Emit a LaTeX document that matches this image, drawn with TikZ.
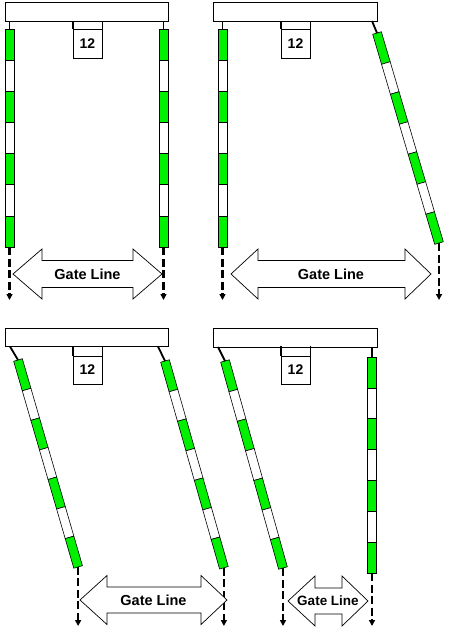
\documentclass[tikz,border=0pt]{standalone}
\usepackage{fontspec}
\setmainfont{Liberation Sans}
\usetikzlibrary{arrows.meta}
\definecolor{gGreen}{RGB}{0,240,0}
\tikzset{
  barbox/.style={draw=black,line width=0.8pt,fill=white},
  tagbox/.style={draw=black,line width=0.8pt,fill=white,minimum width=29pt,minimum height=29pt,inner sep=0pt,font=\fontsize{14}{14}\selectfont\bfseries},
  tabline/.style={line width=1.8pt,line cap=butt},
  hookline/.style={line width=1.8pt,line cap=butt},
  poleseg/.style={draw=black,line width=0.6pt},
  gateline/.style={line width=2.2pt,dash pattern=on 8pt off 3.5pt,-{Triangle[length=6pt,width=6pt]}},
  gatearrow/.style={draw=black,line width=0.7pt,fill=white,line join=miter},
  gatetext/.style={font=\fontsize{14.5}{14.5}\selectfont\bfseries,inner sep=0pt},
}
% #1 name of bottom coordinate, #2 x, #3 y of top centre, #4 angle, #5 length
\newcommand\gpole[5]{%
  \begin{scope}[shift={(#2,#3)},rotate=#4]
    \pgfmathsetmacro\gseg{#5/7}
    \foreach \k in {0,...,6}{
      \pgfmathtruncatemacro\godd{mod(\k,2)}
      \ifnum\godd=0 \def\gfc{gGreen}\else\def\gfc{white}\fi
      \path[poleseg,fill=\gfc] (-4.5,{\k*\gseg}) rectangle (4.5,{(\k+1)*\gseg});
    }
    \coordinate (#1) at (0,#5);
    \coordinate (#1top) at (0,0);
  \end{scope}}
% #1 name, #2 left tip, #3 left base, #4 right base, #5 right tip, #6 cy, #7 head half, #8 shaft half
\newcommand\garrow[8]{%
  \draw[gatearrow] (#2,#6) -- (#3,#6-#7) -- (#3,#6-#8) -- (#4,#6-#8) -- (#4,#6-#7)
    -- (#5,#6) -- (#4,#6+#7) -- (#4,#6+#8) -- (#3,#6+#8) -- (#3,#6+#7) -- cycle;
  \coordinate (#1) at ({(#2+#5)/2},#6);}
\begin{document}
\begin{tikzpicture}[x=1pt,y=-1pt]
\useasboundingbox[fill=white] (0,0) rectangle (450,637);

% ---------- Panel 1 ----------
\draw[barbox] (5,2) rectangle (168,21);
\node[tagbox] (tagA) at (87.5,43.5) {12};
\draw[tabline] (tagA.north west) -- ++(0,-8);
\draw[tabline] (tagA.north east) -- ++(0,-8);
\coordinate (hA1) at (9.5,21);
\coordinate (hA2) at (163.5,21);
\gpole{pA1}{9.5}{29}{0}{218}
\gpole{pA2}{163.5}{29}{0}{218}
\draw[hookline] (hA1) -- (pA1top);
\draw[hookline] (hA2) -- (pA2top);
\coordinate (eA1) at (9.5,300);
\coordinate (eA2) at (163.5,300);
\draw[gateline] (pA1) -- (eA1);
\draw[gateline] (pA2) -- (eA2);
\garrow{gA}{13}{42}{133}{162}{274}{25}{13.5}
\node[gatetext] (tA) at (gA) {Gate Line};

% ---------- Panel 2 ----------
\draw[barbox] (213,2) rectangle (377,21);
\node[tagbox] (tagB) at (295.5,43.5) {12};
\draw[tabline] (tagB.north west) -- ++(0,-8);
\draw[tabline] (tagB.north east) -- ++(0,-8);
\coordinate (hB1) at (222.5,21);
\coordinate (hB2) at (372,21);
\gpole{pB1}{222.5}{29}{0}{218}
\gpole{pB2}{377}{33}{16.45}{219}
\draw[hookline] (hB1) -- (pB1top);
\draw[hookline] (hB2) -- (pB2top);
\coordinate (eB1) at (222.5,300);
\coordinate (eB2) at (439,300);
\draw[gateline] (pB1) -- (eB1);
\draw[gateline] (pB2) -- (pB2 |- eB2);
\garrow{gB}{231}{258}{405}{431}{274}{25}{13.5}
\node[gatetext] (tB) at (gB) {Gate Line};

% ---------- Panel 3 ----------
\draw[barbox] (5,328) rectangle (168,346.5);
\node[tagbox,minimum height=28pt] (tagC) at (87.5,370) {12};
\draw[tabline] (tagC.north west) -- ++(0,-10);
\draw[tabline] (tagC.north east) -- ++(0,-10);
\coordinate (hC1) at (10,346.5);
\coordinate (hC2) at (158,346.5);
\gpole{pC1}{18}{360}{16.2}{215.5}
\gpole{pC2}{165}{361}{15.9}{215}
\draw[hookline] (hC1) -- (pC1top);
\draw[hookline] (hC2) -- (pC2top);
\coordinate (eC1) at (77,626);
\coordinate (eC2) at (227,626);
\draw[gateline] (pC1) -- (pC1 |- eC1);
\draw[gateline] (pC2) -- (pC2 |- eC2);
\garrow{gC}{80}{107}{201}{227}{600}{24.5}{13}
\node[gatetext] (tC) at (gC) {Gate Line};

% ---------- Panel 4 ----------
\draw[barbox] (213,328.5) rectangle (377,347);
\node[tagbox,minimum height=28pt] (tagD) at (295.5,370) {12};
\draw[tabline] (tagD.north west) -- ++(0,-10);
\draw[tabline] (tagD.north east) -- ++(0,-10);
\coordinate (hD1) at (218,347);
\coordinate (hD2) at (372,347);
\gpole{pD1}{225}{361}{15.65}{215}
\gpole{pD2}{372}{357}{0}{216}
\draw[hookline] (hD1) -- (pD1top);
\draw[hookline] (hD2) -- (pD2top);
\coordinate (eD1) at (287,626);
\coordinate (eD2) at (372,626);
\draw[gateline] (pD1) -- (pD1 |- eD1);
\draw[gateline] (pD2) -- (eD2);
\garrow{gD}{288}{315}{342}{368}{601}{25}{13}
\node[gatetext,font=\fontsize{13.5}{13.5}\selectfont\bfseries] (tD) at (gD) {Gate Line};
\end{tikzpicture}
\end{document}
